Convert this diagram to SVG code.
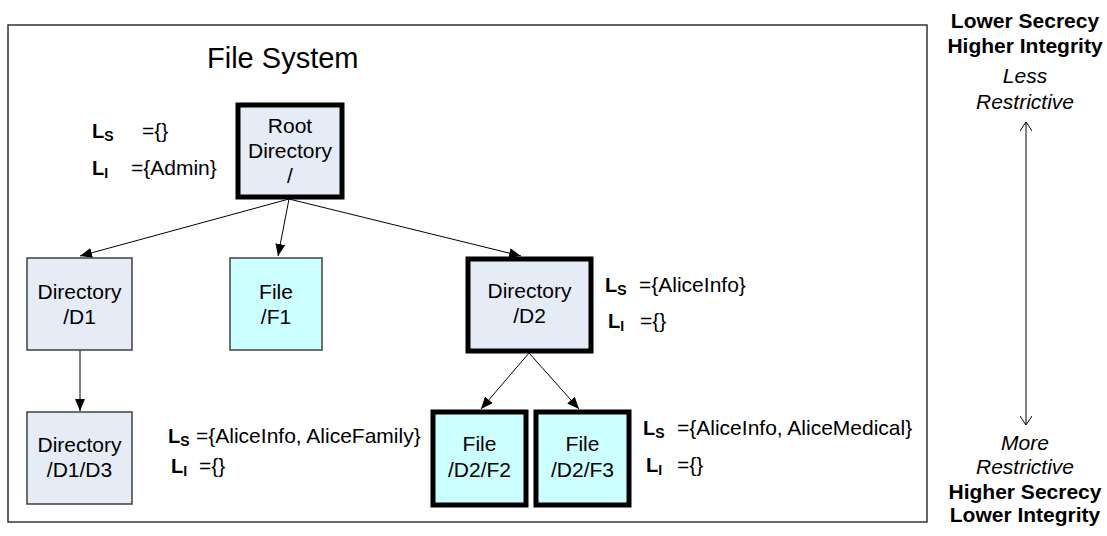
<svg xmlns="http://www.w3.org/2000/svg" width="1107" height="536" viewBox="0 0 1107 536">
<style>
.t{font-family:"Liberation Sans",Arial,sans-serif;font-size:21px;fill:#000}
.c{text-anchor:middle}
.b{font-weight:bold}
.i{font-style:italic}
.L{font-family:"Liberation Sans",Arial,sans-serif;font-size:20px;font-weight:bold}
.s{font-size:14px}
.dir{fill:#E6ECF6}
.file{fill:#CCFFFF}
.thin{stroke:#404040;stroke-width:1.5}
.thick{stroke:#000;stroke-width:5}
.conn{stroke:#000;stroke-width:1;fill:none}
</style>
<defs>
<marker id="ah" viewBox="0 0 12 10" refX="12" refY="5" markerWidth="12" markerHeight="10" markerUnits="userSpaceOnUse" orient="auto">
<path d="M0,0 L12,5 L0,10 Z" fill="#000"/>
</marker>
<marker id="open" viewBox="0 0 10 12" refX="9" refY="6" markerWidth="10" markerHeight="12" markerUnits="userSpaceOnUse" orient="auto">
<path d="M0,0 L9,6 L0,12" fill="none" stroke="#000" stroke-width="1"/>
</marker>
</defs>
<rect width="1107" height="536" fill="#fff"/>
<g id="filesystem">
<rect x="8" y="25" width="919" height="497" fill="none" stroke="#333" stroke-width="1.5"/>
<text class="t" x="207" y="68" style="font-size:29px">File System</text>
</g>
<g id="connectors">
<line class="conn" x1="289" y1="199" x2="80" y2="256" marker-end="url(#ah)"/>
<line class="conn" x1="289" y1="199" x2="278" y2="256" marker-end="url(#ah)"/>
<line class="conn" x1="289" y1="199" x2="521" y2="256" marker-end="url(#ah)"/>
<line class="conn" x1="80" y1="350" x2="80" y2="411" marker-end="url(#ah)"/>
<line class="conn" x1="529" y1="353" x2="481" y2="409" marker-end="url(#ah)"/>
<line class="conn" x1="529" y1="353" x2="579" y2="409" marker-end="url(#ah)"/>
<line class="conn" x1="1026" y1="270" x2="1026" y2="122" marker-end="url(#open)"/>
<line class="conn" x1="1026" y1="270" x2="1026" y2="425" marker-end="url(#open)"/>
</g>
<g id="root">
<rect class="dir thick" x="238" y="105" width="104" height="92"/>
<text class="t c" x="290" y="133">Root</text>
<text class="t c" x="290" y="158">Directory</text>
<text class="t c" x="290" y="183">/</text>
</g>
<g id="root-labels">
<text class="L" x="92" y="138">L<tspan class="s" dy="3">S</tspan></text>
<text class="t" x="142" y="138">={}</text>
<text class="L" x="92" y="175">L<tspan class="s" dy="3">I</tspan></text>
<text class="t" x="131" y="175">={Admin}</text>
</g>
<g id="d1">
<rect class="dir thin" x="27" y="258" width="105" height="92"/>
<text class="t c" x="79.5" y="299">Directory</text>
<text class="t c" x="79.5" y="324">/D1</text>
</g>
<g id="f1">
<rect class="file thin" x="230" y="258" width="92" height="92"/>
<text class="t c" x="276" y="299">File</text>
<text class="t c" x="276" y="324">/F1</text>
</g>
<g id="d2">
<rect class="dir thick" x="468" y="259" width="123" height="92"/>
<text class="t c" x="529.5" y="298">Directory</text>
<text class="t c" x="529.5" y="323">/D2</text>
</g>
<g id="d2-labels">
<text class="L" x="605" y="292">L<tspan class="s" dy="3">S</tspan></text>
<text class="t" x="639" y="292">={AliceInfo}</text>
<text class="L" x="608" y="328">L<tspan class="s" dy="3">I</tspan></text>
<text class="t" x="640" y="328">={}</text>
</g>
<g id="d3">
<rect class="dir thin" x="27" y="412" width="105" height="92"/>
<text class="t c" x="79.5" y="452">Directory</text>
<text class="t c" x="79.5" y="477">/D1/D3</text>
</g>
<g id="d3-labels">
<text class="L" x="168" y="443">L<tspan class="s" dy="3">S</tspan></text>
<text class="t" x="196" y="443">={AliceInfo, AliceFamily}</text>
<text class="L" x="171" y="473">L<tspan class="s" dy="3">I</tspan></text>
<text class="t" x="199" y="473">={}</text>
</g>
<g id="f2">
<rect class="file thick" x="433" y="412" width="93" height="93"/>
<text class="t c" x="479.5" y="451">File</text>
<text class="t c" x="479.5" y="477">/D2/F2</text>
</g>
<g id="f3">
<rect class="file thick" x="536" y="412" width="93" height="93"/>
<text class="t c" x="582.5" y="451">File</text>
<text class="t c" x="582.5" y="477">/D2/F3</text>
</g>
<g id="f3-labels">
<text class="L" x="643" y="435">L<tspan class="s" dy="3">S</tspan></text>
<text class="t" x="677" y="435">={AliceInfo, AliceMedical}</text>
<text class="L" x="646" y="472">L<tspan class="s" dy="3">I</tspan></text>
<text class="t" x="677" y="472">={}</text>
</g>
<g id="scale">
<text class="t c b" x="1025" y="28">Lower Secrecy</text>
<text class="t c b" x="1025" y="53">Higher Integrity</text>
<text class="t c i" x="1025" y="83">Less</text>
<text class="t c i" x="1025" y="109">Restrictive</text>
<text class="t c i" x="1025" y="450">More</text>
<text class="t c i" x="1025" y="474">Restrictive</text>
<text class="t c b" x="1025" y="499">Higher Secrecy</text>
<text class="t c b" x="1025" y="522">Lower Integrity</text>
</g>
</svg>
